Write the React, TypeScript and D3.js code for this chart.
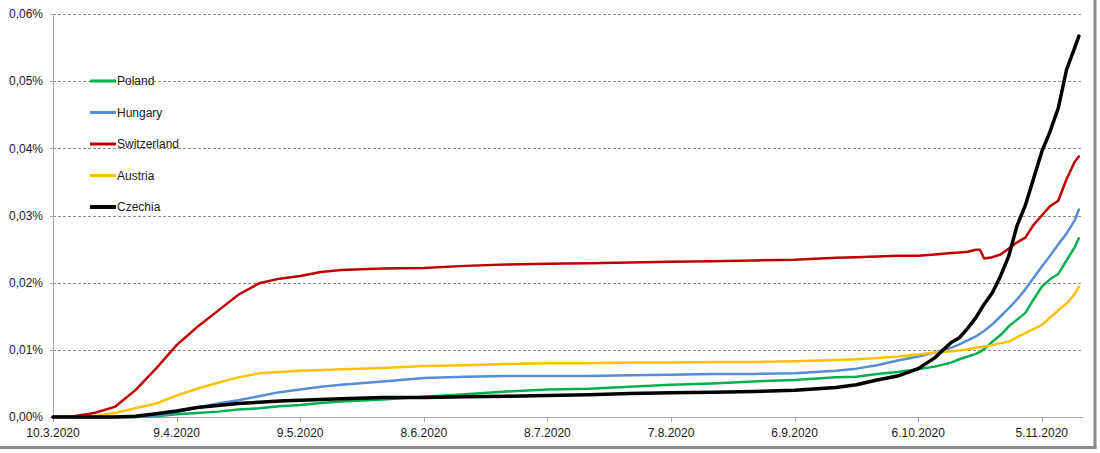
import React from "react";
import * as d3 from "d3";

// day offsets from 10.3.2020
const days = [0, 5, 10, 15, 20, 25, 30, 35, 40, 45, 50, 55, 60, 65, 70, 80, 90, 100, 110, 120, 130, 140, 150, 160, 170, 180, 190, 195, 200, 205, 210, 214, 218, 220, 222, 224, 225, 226, 228, 230, 232, 234, 236, 238, 240, 242, 244, 246, 248, 249];

// values in percent
const poland = [0, 0, 0, 0, 0, 0.0001, 0.0004, 0.0006, 0.0008, 0.0011, 0.0013, 0.0016, 0.0018, 0.0021, 0.0023, 0.0026, 0.003, 0.0034, 0.0038, 0.0041, 0.0042, 0.0045, 0.0048, 0.005, 0.0053, 0.0055, 0.0059, 0.006, 0.0064, 0.0067, 0.0071, 0.0075, 0.0081, 0.0086, 0.009, 0.0094, 0.0097, 0.0101, 0.0112, 0.0122, 0.0135, 0.0145, 0.0155, 0.0175, 0.0194, 0.0205, 0.0213, 0.0233, 0.0253, 0.0266];
const hungary = [0, 0, 0, 0, 0, 0.0002, 0.0007, 0.0014, 0.002, 0.0025, 0.0031, 0.0037, 0.0041, 0.0045, 0.0048, 0.0053, 0.0058, 0.006, 0.0061, 0.0061, 0.0061, 0.0062, 0.0063, 0.0064, 0.0064, 0.0065, 0.0069, 0.0072, 0.0077, 0.0084, 0.009, 0.0096, 0.0103, 0.0108, 0.0114, 0.012, 0.0124, 0.0128, 0.0138, 0.015, 0.0162, 0.0175, 0.019, 0.0207, 0.0224, 0.024, 0.0257, 0.0273, 0.0293, 0.0309];
const switzerland = [0, 0.0001, 0.0006, 0.0015, 0.004, 0.0072, 0.0107, 0.0134, 0.0158, 0.0182, 0.0199, 0.0206, 0.021, 0.0216, 0.0219, 0.0221, 0.0222, 0.0225, 0.0227, 0.0228, 0.0229, 0.023, 0.0231, 0.0232, 0.0233, 0.0234, 0.0237, 0.0238, 0.0239, 0.024, 0.024, 0.0242, 0.0244, 0.0245, 0.0246, 0.0249, 0.0249, 0.0236, 0.0238, 0.0242, 0.0251, 0.026, 0.0267, 0.0286, 0.03, 0.0314, 0.0322, 0.0354, 0.038, 0.0388];
const austria = [0, 0, 0.0001, 0.0006, 0.0013, 0.002, 0.0032, 0.0042, 0.0051, 0.0059, 0.0065, 0.0067, 0.0069, 0.007, 0.0071, 0.0073, 0.0076, 0.0077, 0.0079, 0.008, 0.008, 0.0081, 0.0081, 0.0082, 0.0082, 0.0083, 0.0085, 0.0086, 0.0088, 0.009, 0.0093, 0.0096, 0.0098, 0.0099, 0.0101, 0.0103, 0.0104, 0.0105, 0.0107, 0.011, 0.0112, 0.0119, 0.0125, 0.0131, 0.0137, 0.0148, 0.0159, 0.0169, 0.0183, 0.0194];
const czechia = [0, 0, 0, 0, 0.0001, 0.0005, 0.0009, 0.0014, 0.0017, 0.002, 0.0022, 0.0024, 0.0025, 0.0026, 0.0027, 0.0029, 0.0029, 0.003, 0.0031, 0.0032, 0.0033, 0.0035, 0.0036, 0.0037, 0.0038, 0.004, 0.0044, 0.0048, 0.0055, 0.0061, 0.0072, 0.0088, 0.0111, 0.0118, 0.0132, 0.0148, 0.0158, 0.0168, 0.0185, 0.021, 0.024, 0.0285, 0.0315, 0.0355, 0.0395, 0.0425, 0.046, 0.0517, 0.055, 0.0567];

const seriesNames = ["Poland", "Hungary", "Switzerland", "Austria", "Czechia"];
const seriesColors = ["#00B050", "#558ED5", "#C00000", "#FFC000", "#000000"];
const seriesWidths = [2.5, 2.5, 2.5, 2.5, 3.5];
const seriesValues = [poland, hungary, switzerland, austria, czechia];

const xTickDays = [0, 30, 60, 90, 120, 150, 180, 210, 240];
const xTickLabels = ["10.3.2020", "9.4.2020", "9.5.2020", "8.6.2020", "8.7.2020", "7.8.2020", "6.9.2020", "6.10.2020", "5.11.2020"];
const yTicks = [0, 0.01, 0.02, 0.03, 0.04, 0.05, 0.06];

const W = 1100;
const H = 453;
const left = 53;
const right = 1083;
const top = 14;
const bottom = 417;

export default function App() {
  const x = d3.scaleLinear().domain([0, 250]).range([left, right]);
  const y = d3.scaleLinear().domain([0, 0.06]).range([bottom, top]);
  const line = d3
    .line<number>()
    .x((_, i) => x(days[i]))
    .y((v) => y(v))
    .curve(d3.curveLinear);
  const font = "'Liberation Sans', Arial, sans-serif";
  const fmt = (v: number) => v.toFixed(2).replace(".", ",") + "%";
  const legendY = [81, 112.5, 144, 175.5, 207];

  return (
    <svg width={W} height={H} style={{ position: "absolute", left: 0, top: 0, background: "#fff" }} fontFamily={font}>
      <rect x={0} y={0} width={W} height={H} fill="#fff" />
      {/* gridlines */}
      {yTicks.slice(1).map((t) => (
        <line key={t} x1={left} x2={right} y1={Math.round(y(t)) + 0.5} y2={Math.round(y(t)) + 0.5} stroke="#8c8c8c" strokeWidth={1} strokeDasharray="3,2" />
      ))}
      {/* y axis */}
      <line x1={left + 0.5} x2={left + 0.5} y1={top} y2={bottom} stroke="#a6a6a6" strokeWidth={1} />
      {yTicks.map((t) => (
        <g key={"yt" + t}>
          <line x1={left - 3} x2={left} y1={Math.round(y(t)) + 0.5} y2={Math.round(y(t)) + 0.5} stroke="#a6a6a6" />
          <text x={43} y={y(t)} dy="0.35em" textAnchor="end" fontSize={12} fill="#1a1a1a">
            {fmt(t)}
          </text>
        </g>
      ))}
      {/* x axis */}
      <line x1={left} x2={right} y1={bottom + 0.5} y2={bottom + 0.5} stroke="#a6a6a6" strokeWidth={1} />
      {xTickDays.map((d, i) => (
        <g key={"xt" + d}>
          <line x1={Math.round(x(d)) + 0.5} x2={Math.round(x(d)) + 0.5} y1={bottom} y2={bottom + 5} stroke="#a6a6a6" />
          <text x={x(d)} y={437} textAnchor="middle" fontSize={12} fill="#1a1a1a">
            {xTickLabels[i]}
          </text>
        </g>
      ))}
      {/* series */}
      {seriesValues.map((vals, i) => (
        <path key={seriesNames[i]} d={line(vals) || ""} fill="none" stroke={seriesColors[i]} strokeWidth={seriesWidths[i]} strokeLinejoin="round" strokeLinecap="round" />
      ))}
      {/* legend */}
      {seriesNames.map((n, i) => (
        <g key={"lg" + n}>
          <line x1={90} x2={116} y1={legendY[i]} y2={legendY[i]} stroke={seriesColors[i]} strokeWidth={seriesWidths[i] + 0.5} />
          <text x={117} y={legendY[i]} dy="0.35em" fontSize={12} fill="#1a1a1a">
            {n}
          </text>
        </g>
      ))}
      {/* frame shadow */}
      <line x1={1095} x2={1095} y1={0} y2={449} stroke="#8a8a8a" strokeWidth={3} />
      <line x1={0} x2={1096.5} y1={447.5} y2={447.5} stroke="#8a8a8a" strokeWidth={3} />
    </svg>
  );
}
